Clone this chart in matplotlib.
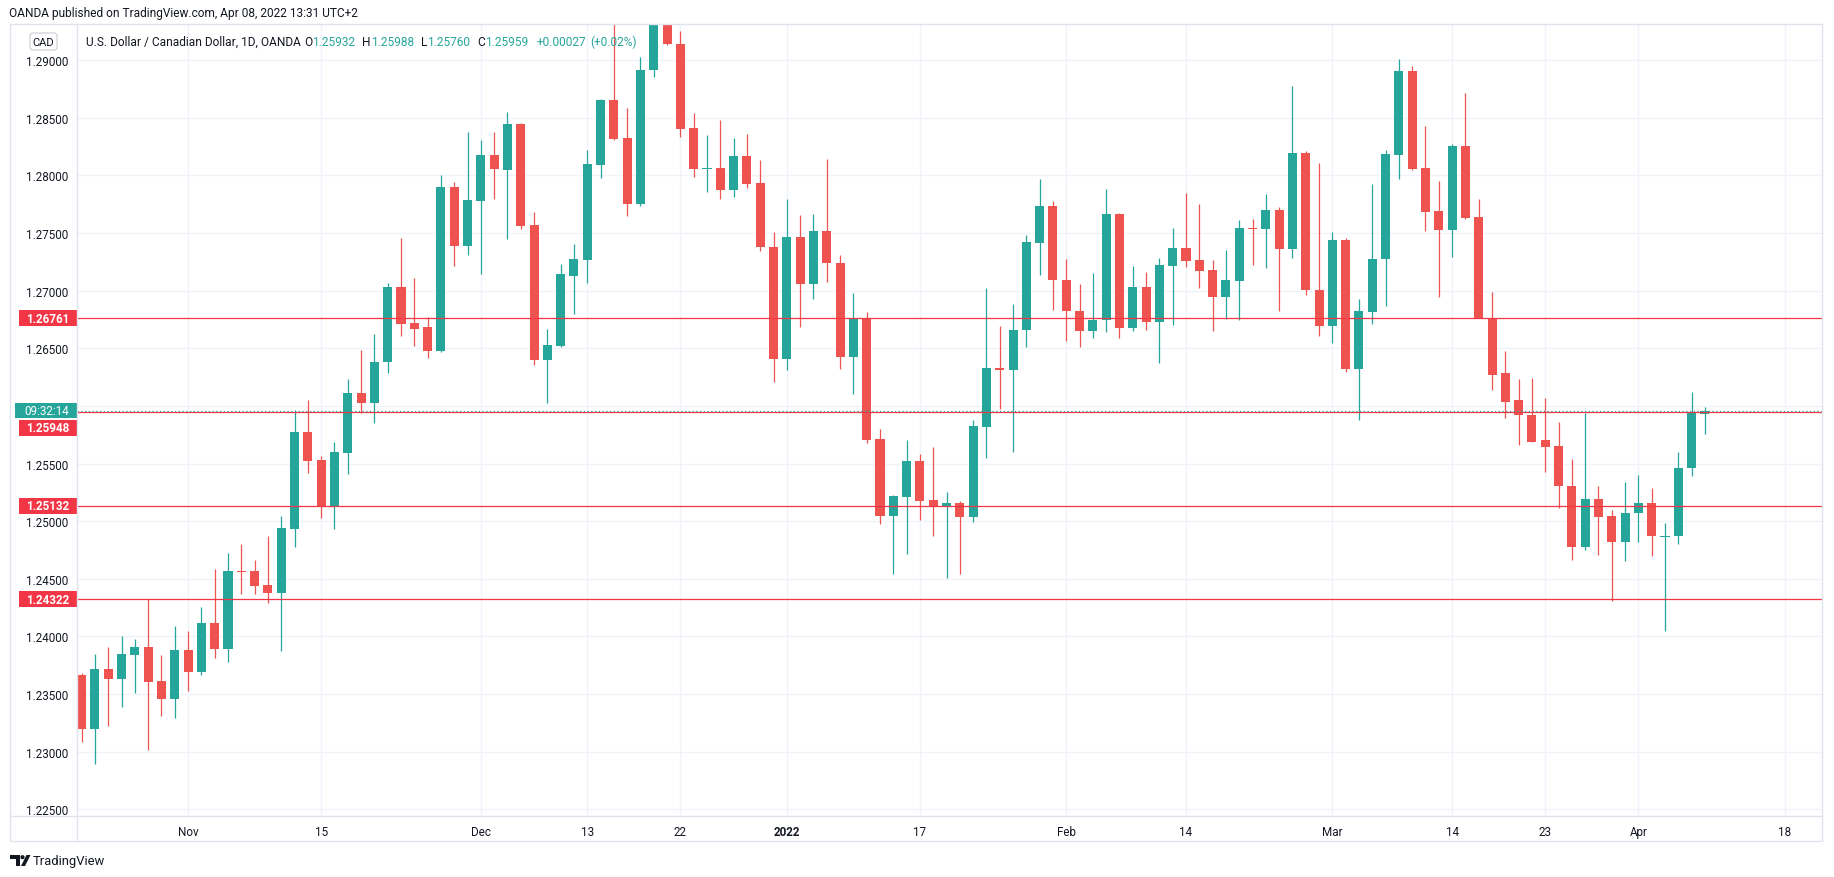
import matplotlib
matplotlib.use('Agg')
import matplotlib.pyplot as plt
from matplotlib.patches import Rectangle, FancyBboxPatch, Polygon, Circle
import numpy as np
import pandas as pd

plt.rcParams['font.family'] = ['Roboto', 'DejaVu Sans']

# USD/CAD daily candles, OANDA, 20 Oct 2021 - 8 Apr 2022
dates = pd.bdate_range('2021-10-20', '2022-04-08')
opens = [1.23664, 1.23197, 1.23716, 1.23632, 1.23841, 1.23907, 1.23612, 1.23458, 1.23881, 1.23693,
         1.24116, 1.23893, 1.24568, 1.24568, 1.24446, 1.24380, 1.24930, 1.25775, 1.25532, 1.25135,
         1.25595, 1.26114, 1.26022, 1.26380, 1.27028, 1.26715, 1.26680, 1.26475, 1.27899, 1.27389,
         1.27778, 1.28177, 1.28048, 1.28446, 1.27566, 1.26400, 1.26522, 1.27130, 1.27265, 1.28092,
         1.28655, 1.28324, 1.27752, 1.28910, 1.29450, 1.29142, 1.28411, 1.28051, 1.28059, 1.27871,
         1.28164, 1.27929, 1.27380, 1.26410, 1.27468, 1.27054, 1.27520, 1.27242, 1.26428, 1.26761,
         1.25712, 1.25043, 1.25212, 1.25522, 1.25183, 1.25125, 1.25157, 1.25038, 1.25820, 1.26330,
         1.26307, 1.26655, 1.27412, 1.27730, 1.27096, 1.26826, 1.26646, 1.26742, 1.27664, 1.26672,
         1.27029, 1.26725, 1.27212, 1.27368, 1.27264, 1.27177, 1.26942, 1.27081, 1.27542, 1.27536,
         1.27699, 1.27359, 1.28191, 1.27009, 1.26690, 1.27435, 1.26316, 1.26817, 1.27270, 1.28174,
         1.28904, 1.28061, 1.27687, 1.27525, 1.28252, 1.27635, 1.26761, 1.26281, 1.26047, 1.25925,
         1.25700, 1.25649, 1.25308, 1.24775, 1.25189, 1.25042, 1.24817, 1.25071, 1.25154, 1.24868,
         1.24868, 1.25459, 1.25932]
highs = [1.23687, 1.23846, 1.23907, 1.24003, 1.23977, 1.24325, 1.23838, 1.24090, 1.24046, 1.24255,
         1.24586, 1.24725, 1.24803, 1.24664, 1.24872, 1.25046, 1.25965, 1.26054, 1.25563, 1.25687,
         1.26237, 1.26481, 1.26627, 1.27063, 1.27456, 1.27108, 1.26775, 1.28003, 1.27943, 1.28373,
         1.28307, 1.28377, 1.28550, 1.28450, 1.27680, 1.26670, 1.27227, 1.27400, 1.28219, 1.28660,
         1.29350, 1.28585, 1.29026, 1.29640, 1.29550, 1.29250, 1.28542, 1.28346, 1.28477, 1.28320,
         1.28355, 1.28129, 1.27512, 1.27790, 1.27659, 1.27668, 1.28138, 1.27312, 1.26981, 1.26816,
         1.25799, 1.25225, 1.25704, 1.25583, 1.25646, 1.25252, 1.25177, 1.25878, 1.27026, 1.26696,
         1.26887, 1.27478, 1.27965, 1.27774, 1.27270, 1.27061, 1.27154, 1.27881, 1.27670, 1.27212,
         1.27159, 1.27281, 1.27542, 1.27846, 1.27751, 1.27264, 1.27351, 1.27612, 1.27620, 1.27838,
         1.27725, 1.28774, 1.28209, 1.28104, 1.27504, 1.27452, 1.26930, 1.27922, 1.28217, 1.29009,
         1.28948, 1.28426, 1.27948, 1.28270, 1.28713, 1.27791, 1.26991, 1.26474, 1.26230, 1.26246,
         1.26066, 1.25864, 1.25543, 1.25934, 1.25308, 1.25100, 1.25343, 1.25404, 1.25292, 1.24987,
         1.25597, 1.26124, 1.25988]
lows = [1.23084, 1.22893, 1.23223, 1.23388, 1.23510, 1.23014, 1.23310, 1.23293, 1.23528, 1.23667,
        1.23814, 1.23780, 1.24368, 1.24368, 1.24293, 1.23875, 1.24772, 1.25421, 1.25025, 1.24930,
        1.25411, 1.25937, 1.25854, 1.26282, 1.26604, 1.26516, 1.26411, 1.26470, 1.27215, 1.27310,
        1.27146, 1.27797, 1.27447, 1.27532, 1.26356, 1.26023, 1.26507, 1.26800, 1.27062, 1.27976,
        1.28310, 1.27648, 1.27735, 1.28850, 1.29128, 1.28335, 1.27987, 1.27854, 1.27793, 1.27810,
        1.27888, 1.27341, 1.26210, 1.26314, 1.26680, 1.26923, 1.27071, 1.26323, 1.26106, 1.25680,
        1.24976, 1.24542, 1.24716, 1.25012, 1.24872, 1.24510, 1.24542, 1.24994, 1.25551, 1.25977,
        1.25603, 1.26507, 1.27133, 1.26829, 1.26560, 1.26507, 1.26586, 1.26638, 1.26586, 1.26646,
        1.26655, 1.26371, 1.26699, 1.27203, 1.27020, 1.26646, 1.26751, 1.26742, 1.27220, 1.27194,
        1.26820, 1.27281, 1.26959, 1.26603, 1.26542, 1.26290, 1.25881, 1.26707, 1.26864, 1.27965,
        1.28043, 1.27513, 1.26942, 1.27290, 1.27620, 1.26761, 1.26142, 1.25892, 1.25658, 1.25684,
        1.25430, 1.25112, 1.24666, 1.24750, 1.24705, 1.24307, 1.24653, 1.24817, 1.24695, 1.24047,
        1.24800, 1.25392, 1.25760]
closes = [1.23197, 1.23716, 1.23632, 1.23846, 1.23907, 1.23606, 1.23458, 1.23881, 1.23693, 1.24116,
          1.23893, 1.24568, 1.24562, 1.24441, 1.24380, 1.24942, 1.25775, 1.25522, 1.25135, 1.25601,
          1.26114, 1.26022, 1.26383, 1.27028, 1.26706, 1.26671, 1.26475, 1.27899, 1.27389, 1.27785,
          1.28177, 1.28051, 1.28446, 1.27561, 1.26400, 1.26530, 1.27140, 1.27270, 1.28098, 1.28655,
          1.28318, 1.27752, 1.28916, 1.29450, 1.29136, 1.28402, 1.28054, 1.28060, 1.27871, 1.28164,
          1.27923, 1.27375, 1.26410, 1.27468, 1.27054, 1.27520, 1.27236, 1.26428, 1.26761, 1.25706,
          1.25043, 1.25217, 1.25522, 1.25177, 1.25125, 1.25157, 1.25038, 1.25826, 1.26330, 1.26307,
          1.26661, 1.27417, 1.27730, 1.27090, 1.26820, 1.26646, 1.26748, 1.27664, 1.26672, 1.27029,
          1.26725, 1.27220, 1.27368, 1.27255, 1.27168, 1.26942, 1.27090, 1.27542, 1.27536, 1.27699,
          1.27359, 1.28191, 1.27003, 1.26690, 1.27435, 1.26316, 1.26826, 1.27278, 1.28183, 1.28904,
          1.28052, 1.27678, 1.27525, 1.28252, 1.27629, 1.26765, 1.26272, 1.26037, 1.25918, 1.25690,
          1.25642, 1.25305, 1.24775, 1.25189, 1.25035, 1.24817, 1.25074, 1.25154, 1.24868, 1.24871,
          1.25465, 1.25947, 1.25959]

tick_dates = ['2021-11-01', '2021-11-15', '2021-12-01', '2021-12-13', '2021-12-22', '2022-01-03',
              '2022-01-17', '2022-02-01', '2022-02-14', '2022-03-01', '2022-03-14', '2022-03-23',
              '2022-04-01', '2022-04-18']
tick_labels = ['Nov', '15', 'Dec', '13', '22', '2022', '17', 'Feb', '14', 'Mar', '14', '23', 'Apr', '18']
price_ticks = [1.225, 1.230, 1.235, 1.240, 1.245, 1.250, 1.255, 1.260, 1.265, 1.270, 1.275, 1.280,
               1.285, 1.290]
levels = [1.26761, 1.25948, 1.25132, 1.24322]
last_price = 1.25959
countdown = '09:32:14'

UP = '#26a69a'
DOWN = '#ef5350'
LEVEL = '#f23645'
TEXT = '#131722'
GRID = '#f0f3fa'
BORDER = '#e0e3eb'

W, H = 1834, 878
fig = plt.figure(figsize=(W / 100, H / 100), dpi=100)
fig.patch.set_facecolor('white')

# chart pane (pixel box 77..1822 x 25..817)
ax = fig.add_axes([77 / W, 1 - 817 / H, (1822 - 77) / W, (817 - 25) / H])
ax.set_xlim(-0.35, 130.8)
ax.set_ylim(1.22443, 1.29312)

x = np.arange(len(dates))
o = np.array(opens)
hi = np.array(highs)
lo = np.array(lows)
c = np.array(closes)
up = c >= o
cols = np.where(up, UP, DOWN)
body_lo = np.minimum(o, c)
body_h = np.abs(c - o)
small = body_h < 0.0001
body_lo = np.where(small, (o + c) / 2 - 0.00005, body_lo)
body_h = np.where(small, 0.0001, body_h)

ax.vlines(x, lo, hi, colors=cols, lw=0.9, zorder=2)
ax.bar(x, body_h, bottom=body_lo, width=0.68, color=cols, lw=0, zorder=2)

for p in levels:
    ax.axhline(p, color=LEVEL, lw=0.9, zorder=3)
ax.axhline(last_price, color=UP, lw=0.9, ls=(0, (1, 2)), zorder=3)

# ticks / grid
tick_idx = [int(np.busday_count('2021-10-20', d)) for d in tick_dates]
ax.set_xticks(tick_idx)
ax.set_xticklabels(tick_labels)
for lab in ax.get_xticklabels():
    if lab.get_text() == '2022':
        lab.set_fontweight('bold')
ax.set_yticks(price_ticks)
ax.set_yticklabels([f'{v:.5f}' for v in price_ticks])
ax.tick_params(axis='both', length=0, colors=TEXT, labelsize=8.4)
ax.tick_params(axis='y', pad=6.5)
ax.tick_params(axis='x', pad=6.5)
ax.grid(True, color=GRID, lw=1, zorder=0)
ax.set_axisbelow(True)
for s in ax.spines.values():
    s.set_visible(False)

# overlay in pixel coordinates for frame and labels
ov = fig.add_axes([0, 0, 1, 1], zorder=5)
ov.set_xlim(0, W)
ov.set_ylim(H, 0)
ov.axis('off')
ov.patch.set_alpha(0)

ov.add_patch(Rectangle((10, 25), 1822 - 10, 842 - 25, fill=False, ec=BORDER, lw=1))
ov.plot([10, 1822], [817, 817], color=BORDER, lw=1)
ov.plot([77, 77], [25, 842], color=BORDER, lw=1)


def price_to_px(p):
    return H - ax.transData.transform((0, p))[1]


y_last = price_to_px(last_price)
ov.add_patch(Rectangle((15, y_last - 7.5), 62, 15, fc=UP, ec='none'))
ov.text(69, y_last, countdown, color='white', ha='right', va='center', fontsize=8.4)
for p in levels:
    yy = price_to_px(p)
    if p == 1.25948:
        yy = y_last + 17
    ov.add_patch(Rectangle((19, yy - 8), 58, 16, fc=LEVEL, ec='none'))
    ov.text(69, yy, f'{p:.5f}', color='white', ha='right', va='center', fontsize=8.4,
            fontweight='bold')

# currency badge
ov.add_patch(FancyBboxPatch((30, 34), 27, 17, boxstyle='round,pad=0,rounding_size=3',
                            fc='white', ec='#c9cbd1', lw=0.8))
ov.text(43.5, 42.8, 'CAD', ha='center', va='center', fontsize=8, color=TEXT)

# header texts
ov.text(9, 14, 'OANDA published on TradingView.com, Apr 08, 2022 13:31 UTC+2', ha='left',
        va='center', fontsize=8.6, color=TEXT)

renderer = fig.canvas.get_renderer()
pieces = [('U.S. Dollar / Canadian Dollar, 1D, OANDA', TEXT, 3),
          ('O', TEXT, 0), ('1.25932', UP, 7),
          ('H', TEXT, 0), ('1.25988', UP, 7),
          ('L', TEXT, 0), ('1.25760', UP, 7),
          ('C', TEXT, 0), ('1.25959', UP, 8),
          ('+0.00027', UP, 4), ('(+0.02%)', UP, 0)]
xpos = 86
for txt, col, gap in pieces:
    t = ov.text(xpos, 42, txt, ha='left', va='center', fontsize=8.6, color=col)
    xpos += t.get_window_extent(renderer).width + gap

# TradingView logo
ov.add_patch(Polygon([(10, 856), (20, 856), (20, 867), (16, 867), (16, 860), (10, 860)],
                     closed=True, fc=TEXT, ec='none'))
ov.add_patch(Circle((22.5, 858.2), 2.1, fc=TEXT, ec='none'))
ov.add_patch(Polygon([(21, 867), (25, 867), (30.5, 856), (26.5, 856)], closed=True, fc=TEXT,
                     ec='none'))
ov.text(33, 861.5, 'TradingView', ha='left', va='center', fontsize=9.4, color=TEXT)

fig.savefig('out.png', dpi=100)
